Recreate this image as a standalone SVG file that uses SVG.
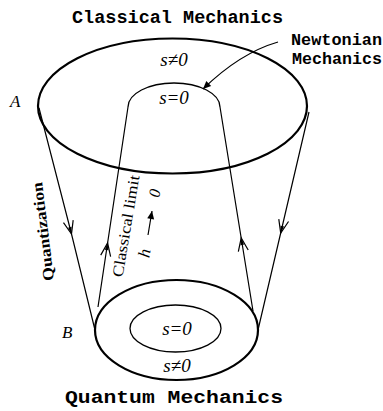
<svg xmlns="http://www.w3.org/2000/svg" width="383" height="411" viewBox="0 0 383 411">
<style>
.title{font-family:"Liberation Mono","Courier New",monospace;font-weight:bold;font-size:18.5px;fill:#000}
.small{font-size:16.5px}
.lab{font-family:"Liberation Serif",serif;font-style:italic;font-size:19px;fill:#000}
.side{font-family:"Liberation Serif",serif;font-size:15.5px;fill:#000}
.thick{fill:none;stroke:#000;stroke-width:2.2}
.thin{fill:none;stroke:#000;stroke-width:1.3}
.line{fill:none;stroke:#000;stroke-width:1.2}
</style>
<defs>
<marker id="chev" viewBox="-14 -6 16 12" markerWidth="16" markerHeight="12" refX="0" refY="0" orient="auto" markerUnits="userSpaceOnUse">
<path d="M-13,-5 L0,0 L-13,5" fill="none" stroke="#000" stroke-width="1.2"/>
<path d="M-7,-1.8 L0,0 L-7,1.8z" fill="#000"/>
</marker>
<marker id="solid" viewBox="-10 -5 12 10" markerWidth="12" markerHeight="10" refX="0" refY="0" orient="auto" markerUnits="userSpaceOnUse">
<path d="M-8,-3.5 L0,0 L-8,3.5z" fill="#000"/>
</marker>
</defs>
<g id="titles">
<text class="title" x="72" y="23" textLength="211" lengthAdjust="spacingAndGlyphs">Classical Mechanics</text>
<text class="title" x="65" y="403" textLength="218" lengthAdjust="spacingAndGlyphs">Quantum Mechanics</text>
</g>
<g id="newtonian">
<text class="title small" x="291" y="45" textLength="91" lengthAdjust="spacingAndGlyphs">Newtonian</text>
<text class="title small" x="292" y="64" textLength="90" lengthAdjust="spacingAndGlyphs">Mechanics</text>
</g>
<g id="classical-top">
<ellipse class="thick" cx="172.5" cy="106" rx="134.5" ry="67.5"/>
<text class="lab" x="174" y="66" text-anchor="middle">s≠0</text>
<path class="thin" d="M128,107 A46,24 0 0 1 220,107"/>
<text class="lab" x="174" y="104" text-anchor="middle">s=0</text>
<text class="lab" x="10" y="107" style="font-size:17px">A</text>
</g>
<g id="quantum-bottom">
<ellipse class="thick" cx="176.5" cy="330" rx="81.5" ry="50"/>
<ellipse class="thin" cx="175.5" cy="328.5" rx="45.5" ry="23.5"/>
<text class="lab" x="177" y="335" text-anchor="middle">s=0</text>
<text class="lab" x="177" y="372" text-anchor="middle">s≠0</text>
<text class="lab" x="62" y="338" style="font-size:17px">B</text>
</g>
<g id="connectors">
<path class="line" d="M39,108 L71.5,234 L95,330" marker-mid="url(#chev)"/>
<path class="line" d="M98,307 L107.6,243 L128,107" marker-mid="url(#chev)"/>
<path class="line" d="M253,311 L241.2,238 L220,107" marker-mid="url(#chev)"/>
<path class="line" d="M309,112 L280.7,233 L258,330" marker-mid="url(#chev)"/>
<path class="line" d="M278,42 Q240,53 203,89" stroke-width="1.4" marker-end="url(#solid)"/>
<path class="line" d="M148,235 L152,211" stroke-width="1.3" marker-end="url(#solid)"/>
</g>
<g id="labels">
<text class="side" font-weight="bold" transform="translate(48,231) rotate(-97)" text-anchor="middle" textLength="99" lengthAdjust="spacingAndGlyphs">Quantization</text>
<text class="side" transform="translate(131,227) rotate(-80.5)" text-anchor="middle" textLength="103" lengthAdjust="spacingAndGlyphs">Classical limit</text>
<text class="lab" transform="translate(150,254) rotate(-80.5)" text-anchor="middle" style="font-size:17px">h</text>
<text class="lab" transform="translate(160,194) rotate(-80.5)" text-anchor="middle" style="font-size:16px">0</text>
</g>
</svg>
